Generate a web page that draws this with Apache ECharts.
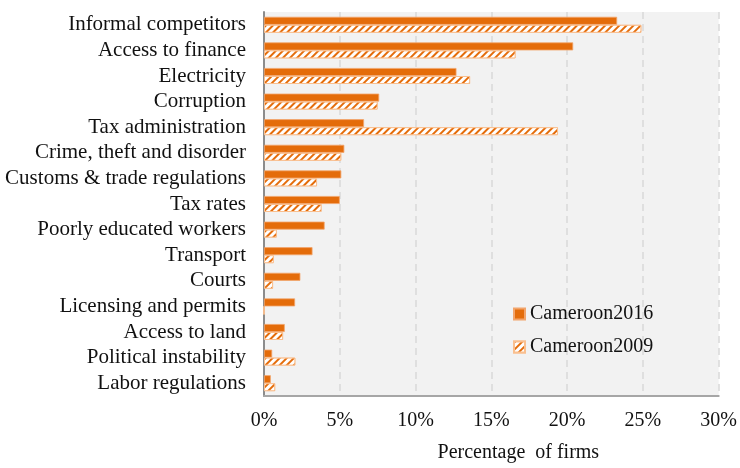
<!DOCTYPE html>
<html>
<head>
<meta charset="utf-8">
<script src="https://cdn.jsdelivr.net/npm/echarts@6/dist/echarts.min.js"></script>
<style>
  html, body { margin: 0; padding: 0; background: #ffffff; }
  #chart { width: 740px; height: 468px; }
</style>
</head>
<body>
<div id="chart"></div>
<script>
// Obstacles to doing business, share of firms (%), listed top to bottom
const categories = [
  'Informal competitors', 'Access to finance', 'Electricity', 'Corruption',
  'Tax administration', 'Crime, theft and disorder', 'Customs & trade regulations',
  'Tax rates', 'Poorly educated workers', 'Transport', 'Courts',
  'Licensing and permits', 'Access to land', 'Political instability', 'Labor regulations'
];
const cameroon2016 = [23.3, 20.4, 12.7, 7.6, 6.6, 5.3, 5.1, 5.0, 4.0, 3.2, 2.4, 2.05, 1.37, 0.54, 0.45];
const cameroon2009 = [24.9, 16.6, 13.6, 7.5, 19.4, 5.1, 3.5, 3.8, 0.85, 0.65, 0.6, 0, 1.26, 2.07, 0.74];
const xTicks = { min: 0, max: 30, step: 5 };
const seriesNames = ['Cameroon2016', 'Cameroon2009'];

const serif = '"Liberation Serif", "DejaVu Serif", serif';
const orange = '#E46C0A';

const chart = echarts.init(document.getElementById('chart'), null, { renderer: 'canvas' });
chart.setOption({
  animation: false,
  backgroundColor: '#ffffff',
  grid: {
    left: 264, right: 18, top: 12, bottom: 67,
    show: true, backgroundColor: '#f2f2f2', borderWidth: 0
  },
  legend: {
    orient: 'vertical',
    left: 508, top: 299,
    icon: 'rect',
    itemWidth: 11, itemHeight: 11, itemGap: 13,
    textStyle: { fontFamily: serif, fontSize: 20, color: '#111', lineHeight: 20 },
    data: seriesNames
  },
  xAxis: {
    type: 'value',
    min: xTicks.min, max: xTicks.max, interval: xTicks.step,
    axisLine: { show: true, lineStyle: { color: '#a6a6a6', width: 2 } },
    axisTick: { show: false },
    axisLabel: { formatter: '{value}%', fontFamily: serif, fontSize: 20, color: '#111', margin: 15 },
    splitLine: { show: true, lineStyle: { color: '#d9d9d9', width: 1.5, type: [7, 5] } },
    name: 'Percentage  of firms',
    nameLocation: 'middle',
    nameGap: 47,
    nameTextStyle: { fontFamily: serif, fontSize: 20, color: '#111', padding: [0, 0, 0, 54] }
  },
  yAxis: {
    type: 'category',
    inverse: true,
    data: categories,
    axisLine: { show: true, lineStyle: { color: '#8c8c8c', width: 2 } },
    axisTick: { show: false },
    axisLabel: { interval: 0, fontFamily: serif, fontSize: 21, color: '#111', margin: 18 },
    splitLine: { show: false }
  },
  series: [
    {
      name: seriesNames[0],
      type: 'bar',
      data: cameroon2016,
      barWidth: 8,
      barGap: '0%',
      itemStyle: { color: orange, borderColor: '#f2a46b', borderWidth: 0.8 }
    },
    {
      name: seriesNames[1],
      type: 'bar',
      data: cameroon2009,
      barWidth: 8,
      barGap: '0%',
      itemStyle: {
        color: '#ffffff',
        borderColor: '#f9bf8f',
        borderWidth: 1,
        decal: {
          symbol: 'rect',
          symbolSize: 1,
          dashArrayX: [[1, 0]],
          dashArrayY: [2, 2.5],
          rotation: -Math.PI / 4,
          color: orange,
          backgroundColor: '#ffffff'
        }
      }
    }
  ]
});
</script>
</body>
</html>
